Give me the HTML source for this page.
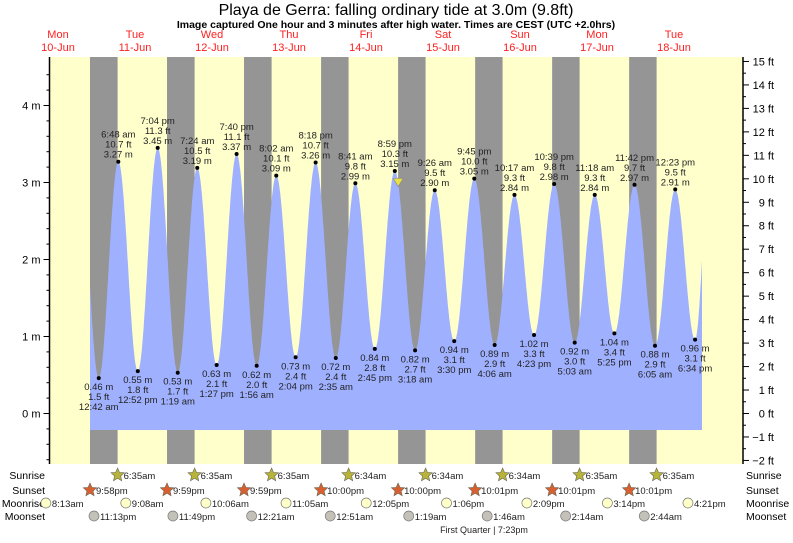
<!DOCTYPE html>
<html><head><meta charset="utf-8"><style>
body{margin:0;background:#fff;width:793px;height:538px;overflow:hidden}
svg{font-family:"Liberation Sans",sans-serif}
</style></head><body>
<svg id="c" width="793" height="538"></svg>
<script>
// ---- data (hours relative to Tue 11-Jun 00:00) ----
const tideTimes=[-5.5,0.70,6.80,12.87,19.07,25.32,31.40,37.45,43.67,49.93,56.03,62.07,68.30,74.58,80.68,86.75,92.98,99.30,105.43,111.50,117.75,124.10,130.28,136.38,142.65,149.05,155.30,161.42,167.70,174.08,180.38,186.57,191.0];
const tideHeights=[3.40,0.46,3.27,0.55,3.45,0.53,3.19,0.63,3.37,0.62,3.09,0.73,3.26,0.72,2.99,0.84,3.15,0.82,2.90,0.94,3.05,0.89,2.84,1.02,2.98,0.92,2.84,1.04,2.97,0.88,2.91,0.96,3.10];
const tideFt=["","1.5","10.7","1.8","11.3","1.7","10.5","2.1","11.1","2.0","10.1","2.4","10.7","2.4","9.8","2.8","10.3","2.7","9.5","3.1","10.0","2.9","9.3","3.3","9.8","3.0","9.3","3.4","9.7","2.9","9.5","3.1",""];
const tideLabels=["","12:42 am","6:48 am","12:52 pm","7:04 pm","1:19 am","7:24 am","1:27 pm","7:40 pm","1:56 am","8:02 am","2:04 pm","8:18 pm","2:35 am","8:41 am","2:45 pm","8:59 pm","3:18 am","9:26 am","3:30 pm","9:45 pm","4:06 am","10:17 am","4:23 pm","10:39 pm","5:03 am","11:18 am","5:25 pm","11:42 pm","6:05 am","12:23 pm","6:34 pm",""];
const dayNames=["Mon","Tue","Wed","Thu","Fri","Sat","Sun","Mon","Tue"];
const dayDates=["10-Jun","11-Jun","12-Jun","13-Jun","14-Jun","15-Jun","16-Jun","17-Jun","18-Jun"];
const sunriseH=[6.58,30.58,54.58,78.57,102.57,126.57,150.58,174.58];
const sunriseL=["6:35am","6:35am","6:35am","6:34am","6:34am","6:34am","6:35am","6:35am"];
const sunsetH=[-2.03,21.98,45.98,70.0,94.0,118.02,142.02,166.02];
const sunsetL=["9:58pm","9:59pm","9:59pm","10:00pm","10:00pm","10:01pm","10:01pm","10:01pm"];
const moonriseH=[-15.78,9.13,34.10,59.08,84.08,109.10,134.15,159.23,184.35];
const moonriseL=["8:13am","9:08am","10:06am","11:05am","12:05pm","1:06pm","2:09pm","3:14pm","4:21pm"];
const moonsetH=[-0.78,23.82,48.35,72.85,97.32,121.77,146.23,170.73];
const moonsetL=["11:13pm","11:49pm","12:21am","12:51am","1:19am","1:46am","2:14am","2:44am"];
const nowH=94.03, nowM=3.0;
const mTicks=[0,1,2,3,4];
const ftTicks=[-2,-1,0,1,2,3,4,5,6,7,8,9,10,11,12,13,14,15];

// ---- axes ----
const X0=96.5, PXH=77/24, Y0=413.5, PXM=77;
const L=49.5, R=743, T=57, B=464, FILLB=430, FILLL=90, FILLR=702;
const x=h=>X0+h*PXH, y=m=>Y0-m*PXM;
const NS="http://www.w3.org/2000/svg", svg=document.getElementById('c');
function el(t,a,p){const e=document.createElementNS(NS,t);for(const k in a)e.setAttribute(k,a[k]);(p||svg).appendChild(e);return e;}
function txt(s,a,p){const e=el('text',a,p);e.textContent=s;return e;}

let e;
e=el('rect',{x:L,y:T,width:R-L,height:B-T,fill:'#ffffcc'});


sunsetH.forEach((s,i)=>{
  const r=el('rect',{x:x(s),y:T,width:x(sunriseH[i])-x(s),height:B-T,fill:'#959595'});
  
  
});
// tide curve (cosine interp)
function hAt(t){for(let i=0;i<tideTimes.length-1;i++){const a=tideTimes[i],b=tideTimes[i+1];if(t>=a&&t<=b){const f=(1-Math.cos(Math.PI*(t-a)/(b-a)))/2;return tideHeights[i]+(tideHeights[i+1]-tideHeights[i])*f;}}return tideHeights[tideHeights.length-1];}
const t0=(FILLL-X0)/PXH, t1=(FILLR-X0)/PXH;
let d=`M${FILLL},${FILLB}`;
for(let t=t0;t<=t1;t+=0.1)d+=`L${x(t).toFixed(1)},${y(hAt(t)).toFixed(1)}`;
d+=`L${FILLR},${y(hAt(t1)).toFixed(1)}L${FILLR},${FILLB}Z`;
e=el('path',{d:d,fill:'#9fb0ff'});


// extrema labels
tideTimes.forEach((t,i)=>{
  if(!tideLabels[i])return;
  const cx=x(t),cy=y(tideHeights[i]);
  const g=el('g',{'font-size':'9.5',fill:'#222','text-anchor':'middle'});
  
  
  el('circle',{cx:cx,cy:cy,r:2,fill:'#000'},g);
  const high=tideHeights[i]>2;
  const lines=high?[tideLabels[i],tideFt[i]+' ft',tideHeights[i].toFixed(2)+' m']:[tideHeights[i].toFixed(2)+' m',tideFt[i]+' ft',tideLabels[i]];
  lines.forEach((s,j)=>{const yy=high?cy-4-(2-j)*10:cy+12+j*10;txt(s,{x:cx,y:yy},g);});
});
// now marker
e=el('path',{d:`M${x(nowH)-5},${y(nowM)-4}L${x(nowH)+5},${y(nowM)-4}L${x(nowH)},${y(nowM)+4}Z`,fill:'#e8e040',stroke:'#888','stroke-width':0.6});


// axes
e=el('line',{x1:L,y1:T,x2:L,y2:B,stroke:'#000','stroke-width':1.5});


e=el('line',{x1:R,y1:T,x2:R,y2:B,stroke:'#000','stroke-width':1.5});


for(let m=-0.6;m<=4.6;m+=0.2){const yy=y(m);if(yy<T||yy>B)continue;const major=Math.abs(m-Math.round(m))<0.01;el('line',{x1:L-(major?6:3),y1:yy,x2:L,y2:yy,stroke:'#000'});}
mTicks.forEach(m=>{const t=txt(m+' m',{x:L-9,y:y(m)+4,'font-size':'11','text-anchor':'end',fill:'#000'});});
for(let f=-2;f<=15;f+=0.5){const yy=y(f/3.28084);const major=f%1===0;el('line',{x1:R,y1:yy,x2:R+(major?6:3),y2:yy,stroke:'#000'});}
ftTicks.forEach(f=>{const t=txt((f<0?'\u2212'+(-f):f)+' ft',{x:R+31,y:y(f/3.28084)+4,'font-size':'11','text-anchor':'end',fill:'#000'});});
// day labels
dayNames.forEach((n,i)=>{const cx=x((i-1)*24+12);
  const t1=txt(n,{x:cx,y:38,'font-size':'11','text-anchor':'middle',fill:'#ff2020'});
  const t2=txt(dayDates[i],{x:cx,y:51,'font-size':'11','text-anchor':'middle',fill:'#ff2020'});});
// titles
e=txt('Playa de Gerra: falling  ordinary tide at 3.0m (9.8ft)',{x:396,y:15,'font-size':'16','text-anchor':'middle',fill:'#000','xml:space':'preserve'});


e=txt('Image captured One hour and 3 minutes after high water. Times are CEST (UTC +2.0hrs)',{x:396,y:28,'font-size':'10.5','font-weight':'bold','text-anchor':'middle',fill:'#000'});


// bottom rows
function star(cx,cy,fill){let p='';for(let k=0;k<10;k++){const r=k%2?3.2:7,a=-Math.PI/2+k*Math.PI/5;p+=(k?'L':'M')+(cx+r*Math.cos(a)).toFixed(1)+','+(cy+r*Math.sin(a)).toFixed(1);}return el('path',{d:p+'Z',fill:fill,stroke:'#665','stroke-width':0.6});}
const rows=[['Sunrise',475,sunriseH,sunriseL,'#b8b43a','star'],['Sunset',490,sunsetH,sunsetL,'#d86030','star'],['Moonrise',503,moonriseH,moonriseL,'#ffffc8','circ'],['Moonset',516,moonsetH,moonsetL,'#c4c2b8','circ']];
rows.forEach(r=>{
  const a=txt(r[0],{x:45,y:r[1]+4,'font-size':'10.5','text-anchor':'end',fill:'#000'});
  const b=txt(r[0],{x:746,y:r[1]+4,'font-size':'10.5',fill:'#000'});
  r[2].forEach((h,i)=>{const cx=x(h);
    const ic=r[5]==='star'?star(cx,r[1],r[4]):el('circle',{cx:cx,cy:r[1],r:5,fill:r[4],stroke:'#777','stroke-width':0.7});
    
    
    const t=txt(r[3][i],{x:cx+6,y:r[1]+4,'font-size':'9.5',fill:'#222'});
    
    });
});
e=txt('First Quarter | 7:23pm',{x:484,y:533,'font-size':'9','text-anchor':'middle',fill:'#222'});


</script>
</body></html>
